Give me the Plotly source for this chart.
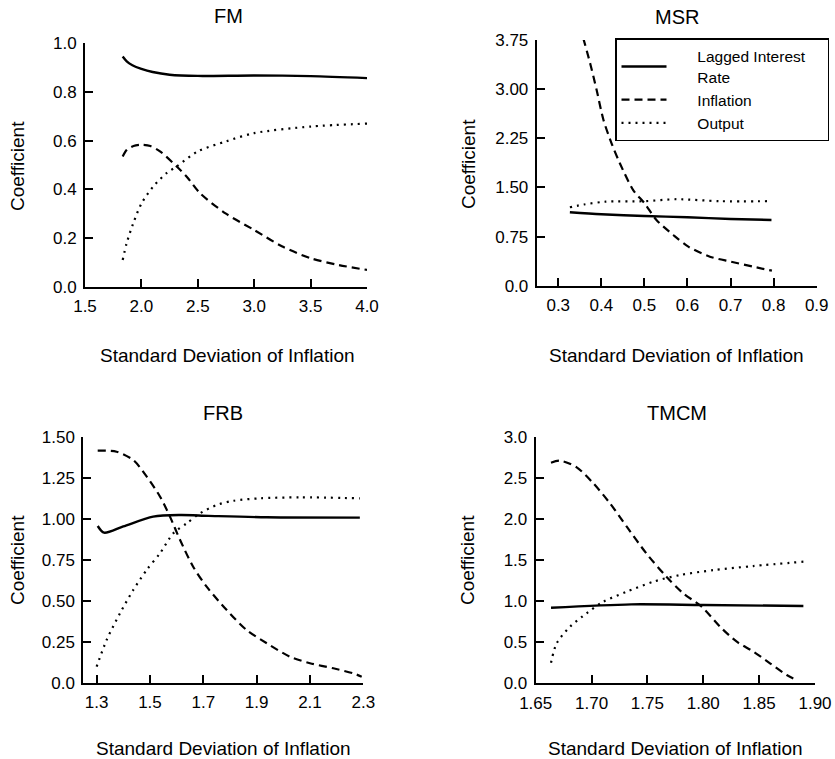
import plotly.graph_objects as go

W, H = 835, 759
OFF = 0  # body margin is removed by the post script below

# ---------------- data ----------------
panel_titles = ["FM", "MSR", "FRB", "TMCM"]
series_names = ["Lagged Interest<br>Rate", "Inflation", "Output"]
x_title = "Standard Deviation of Inflation"
y_title = "Coefficient"

# FM
fm_lag_x = [1.834, 1.87, 1.92, 2.0, 2.1, 2.25, 2.5, 3.0, 3.5, 4.0]
fm_lag_y = [0.946, 0.926, 0.910, 0.895, 0.882, 0.871, 0.866, 0.868, 0.865, 0.857]
fm_inf_x = [1.834, 1.87, 1.93, 2.0, 2.08, 2.165, 2.313, 2.40, 2.52, 2.75, 3.0, 3.25, 3.5, 3.75, 4.0]
fm_inf_y = [0.535, 0.562, 0.578, 0.583, 0.578, 0.556, 0.494, 0.453, 0.384, 0.30, 0.233, 0.165, 0.117, 0.089, 0.069]
fm_out_x = [1.834, 1.869, 1.928, 2.002, 2.106, 2.224, 2.313, 2.5, 2.75, 3.0, 3.5, 4.0]
fm_out_y = [0.11, 0.178, 0.261, 0.343, 0.412, 0.467, 0.494, 0.556, 0.597, 0.631, 0.658, 0.67]

# MSR
msr_lag_x = [0.327, 0.4, 0.5, 0.6, 0.7, 0.795]
msr_lag_y = [1.12, 1.09, 1.064, 1.044, 1.018, 1.003]
msr_inf_x = [0.358, 0.374, 0.389, 0.405, 0.424, 0.443, 0.474, 0.5, 0.528, 0.567, 0.602, 0.652, 0.701, 0.753, 0.796]
msr_inf_y = [3.78, 3.395, 2.99, 2.53, 2.17, 1.87, 1.46, 1.26, 1.003, 0.774, 0.596, 0.443, 0.367, 0.29, 0.229]
msr_out_x = [0.327, 0.36, 0.41, 0.5, 0.575, 0.675, 0.795]
msr_out_y = [1.197, 1.24, 1.283, 1.29, 1.32, 1.29, 1.29]

# FRB
frb_lag_x = [1.304, 1.328, 1.40, 1.512, 1.613, 1.72, 1.938, 2.287]
frb_lag_y = [0.958, 0.917, 0.955, 1.015, 1.025, 1.02, 1.011, 1.009]
frb_inf_x = [1.304, 1.375, 1.4375, 1.488, 1.538, 1.575, 1.613, 1.662, 1.7125, 1.788, 1.8625, 1.938, 2.025, 2.1, 2.1875, 2.2625, 2.294]
frb_inf_y = [1.418, 1.412, 1.361, 1.259, 1.137, 1.015, 0.872, 0.709, 0.587, 0.444, 0.322, 0.241, 0.159, 0.119, 0.088, 0.057, 0.037]
frb_out_x = [1.30, 1.3375, 1.3875, 1.4375, 1.4875, 1.5375, 1.5875, 1.6375, 1.6875, 1.75, 1.8125, 1.9125, 2.0625, 2.2875]
frb_out_y = [0.098, 0.261, 0.424, 0.567, 0.689, 0.791, 0.913, 0.974, 1.035, 1.086, 1.112, 1.127, 1.133, 1.127]

# TMCM
tmcm_lag_x = [1.6637, 1.7356, 1.80, 1.8896]
tmcm_lag_y = [0.922, 0.963, 0.955, 0.943]
tmcm_inf_x = [1.6637, 1.6717, 1.6867, 1.7016, 1.7165, 1.7315, 1.749, 1.767, 1.782, 1.7986, 1.815, 1.83, 1.845, 1.8597, 1.8747, 1.8836]
tmcm_inf_y = [2.69, 2.715, 2.634, 2.439, 2.195, 1.91, 1.585, 1.30, 1.098, 0.934, 0.690, 0.507, 0.385, 0.244, 0.101, 0.04]
tmcm_out_x = [1.6637, 1.6688, 1.6807, 1.6956, 1.7105, 1.7315, 1.7553, 1.779, 1.8089, 1.8447, 1.8896]
tmcm_out_y = [0.251, 0.488, 0.69, 0.854, 0.995, 1.117, 1.239, 1.32, 1.38, 1.43, 1.483]

# ticks
fm_xticks = [1.5, 2.0, 2.5, 3.0, 3.5, 4.0]
fm_xlabels = ["1.5", "2.0", "2.5", "3.0", "3.5", "4.0"]
fm_yticks = [0.0, 0.2, 0.4, 0.6, 0.8, 1.0]
fm_ylabels = ["0.0", "0.2", "0.4", "0.6", "0.8", "1.0"]
msr_xticks = [0.3, 0.4, 0.5, 0.6, 0.7, 0.8, 0.9]
msr_xlabels = ["0.3", "0.4", "0.5", "0.6", "0.7", "0.8", "0.9"]
msr_yticks = [0.0, 0.75, 1.5, 2.25, 3.0, 3.75]
msr_ylabels = ["0.0", "0.75", "1.50", "2.25", "3.00", "3.75"]
frb_xticks = [1.3, 1.5, 1.7, 1.9, 2.1, 2.3]
frb_xlabels = ["1.3", "1.5", "1.7", "1.9", "2.1", "2.3"]
frb_yticks = [0.0, 0.25, 0.5, 0.75, 1.0, 1.25, 1.5]
frb_ylabels = ["0.0", "0.25", "0.50", "0.75", "1.00", "1.25", "1.50"]
tmcm_xticks = [1.65, 1.70, 1.75, 1.80, 1.85, 1.90]
tmcm_xlabels = ["1.65", "1.70", "1.75", "1.80", "1.85", "1.90"]
tmcm_yticks = [0.0, 0.5, 1.0, 1.5, 2.0, 2.5, 3.0]
tmcm_ylabels = ["0.0", "0.5", "1.0", "1.5", "2.0", "2.5", "3.0"]

# ---------------- layout geometry (screen pixels) ----------------
panels = [
    dict(box=(85, 367, 43.3, 286.7), xr=[1.5, 4.0], yr=[0, 1.0],
         xt=(fm_xticks, fm_xlabels), yt=(fm_yticks, fm_ylabels),
         data=[(fm_lag_x, fm_lag_y), (fm_inf_x, fm_inf_y), (fm_out_x, fm_out_y)]),
    dict(box=(536.7, 816.7, 40, 285.7), xr=[0.25, 0.9], yr=[0, 3.75],
         xt=(msr_xticks, msr_xlabels), yt=(msr_yticks, msr_ylabels),
         data=[(msr_lag_x, msr_lag_y), (msr_inf_x, msr_inf_y), (msr_out_x, msr_out_y)]),
    dict(box=(83.3, 363.3, 437.3, 682.7), xr=[1.25, 2.3], yr=[0, 1.5],
         xt=(frb_xticks, frb_xlabels), yt=(frb_yticks, frb_ylabels),
         data=[(frb_lag_x, frb_lag_y), (frb_inf_x, frb_inf_y), (frb_out_x, frb_out_y)]),
    dict(box=(535.7, 815, 437.3, 683.3), xr=[1.65, 1.90], yr=[0, 3.0],
         xt=(tmcm_xticks, tmcm_xlabels), yt=(tmcm_yticks, tmcm_ylabels),
         data=[(tmcm_lag_x, tmcm_lag_y), (tmcm_inf_x, tmcm_inf_y), (tmcm_out_x, tmcm_out_y)]),
]
title_pos = [(228, 16), (677, 17), (223, 413), (677, 413)]
xtitle_pos = [(227, 355), (676, 355), (223, 748), (675, 748)]
ytitle_pos = [(17, 166), (468, 164), (17, 560), (467, 560)]


def px(x):
    return (x - OFF) / W


def py(y):
    return 1 - (y - OFF) / H


dashes = ["solid", "8px,5px", "2px,5px"]
widths = [2.4, 2.2, 2.2]

FONT = "Liberation Sans, Arial, Helvetica, sans-serif"

fig = go.Figure()
layout = dict(
    template="none",
    width=W, height=H, margin=dict(l=0, r=0, t=0, b=0, autoexpand=False),
    paper_bgcolor="white", plot_bgcolor="white",
    font=dict(family=FONT, color="black", size=17),
    showlegend=True,
    annotations=[],
)

pad = "\u00a0" * 6
tail = "\u00a0" * 4
for i, p in enumerate(panels):
    n = "" if i == 0 else str(i + 1)
    x0, x1, y0, y1 = p["box"]
    for k, (xs, ys) in enumerate(p["data"]):
        label = pad + series_names[k].replace("<br>", tail + "<br>" + pad)
        fig.add_trace(go.Scatter(
            x=xs, y=ys, mode="lines", xaxis="x" + n, yaxis="y" + n,
            name=label, showlegend=(i == 1),
            line=dict(color="black", width=widths[k], dash=dashes[k], shape="spline", smoothing=0.8),
            hoverinfo="skip",
        ))
    common = dict(showline=True, linecolor="black", linewidth=2, ticks="inside",
                  ticklen=8, tickwidth=1.5, tickcolor="black", showgrid=False,
                  zeroline=False, mirror=False, automargin=False,
                  tickfont=dict(size=17, family=FONT, color="black"))
    layout["xaxis" + n] = dict(domain=[px(x0), px(x1)], range=p["xr"], anchor="y" + n,
                               tickmode="array", tickvals=p["xt"][0], ticktext=p["xt"][1],
                               ticklabelstandoff=3, **common)
    layout["yaxis" + n] = dict(domain=[py(y1), py(y0)], range=p["yr"], anchor="x" + n,
                               tickmode="array", tickvals=p["yt"][0], ticktext=p["yt"][1],
                               ticklabelstandoff=3, **common)
    tx, ty = title_pos[i]
    layout["annotations"].append(dict(text=panel_titles[i], x=px(tx), y=py(ty), xref="paper", yref="paper",
                                      showarrow=False, xanchor="center", yanchor="middle",
                                      font=dict(size=20, family=FONT, color="black")))
    tx, ty = xtitle_pos[i]
    layout["annotations"].append(dict(text=x_title, x=px(tx), y=py(ty), xref="paper", yref="paper",
                                      showarrow=False, xanchor="center", yanchor="middle",
                                      font=dict(size=19, family=FONT, color="black")))
    tx, ty = ytitle_pos[i]
    layout["annotations"].append(dict(text=y_title, x=px(tx), y=py(ty), xref="paper", yref="paper",
                                      showarrow=False, xanchor="center", yanchor="middle", textangle=-90,
                                      font=dict(size=19, family=FONT, color="black")))

layout["legend"] = dict(x=px(615), y=py(38.3), xanchor="left", yanchor="top",
                        bordercolor="black", borderwidth=1.5, bgcolor="white",
                        font=dict(size=15.5, family=FONT, color="black"),
                        itemwidth=45, tracegroupgap=0)
fig.update_layout(**layout)
fig.write_html("out.html", config={"displayModeBar": False},
               post_script="document.body.style.margin='0';")
